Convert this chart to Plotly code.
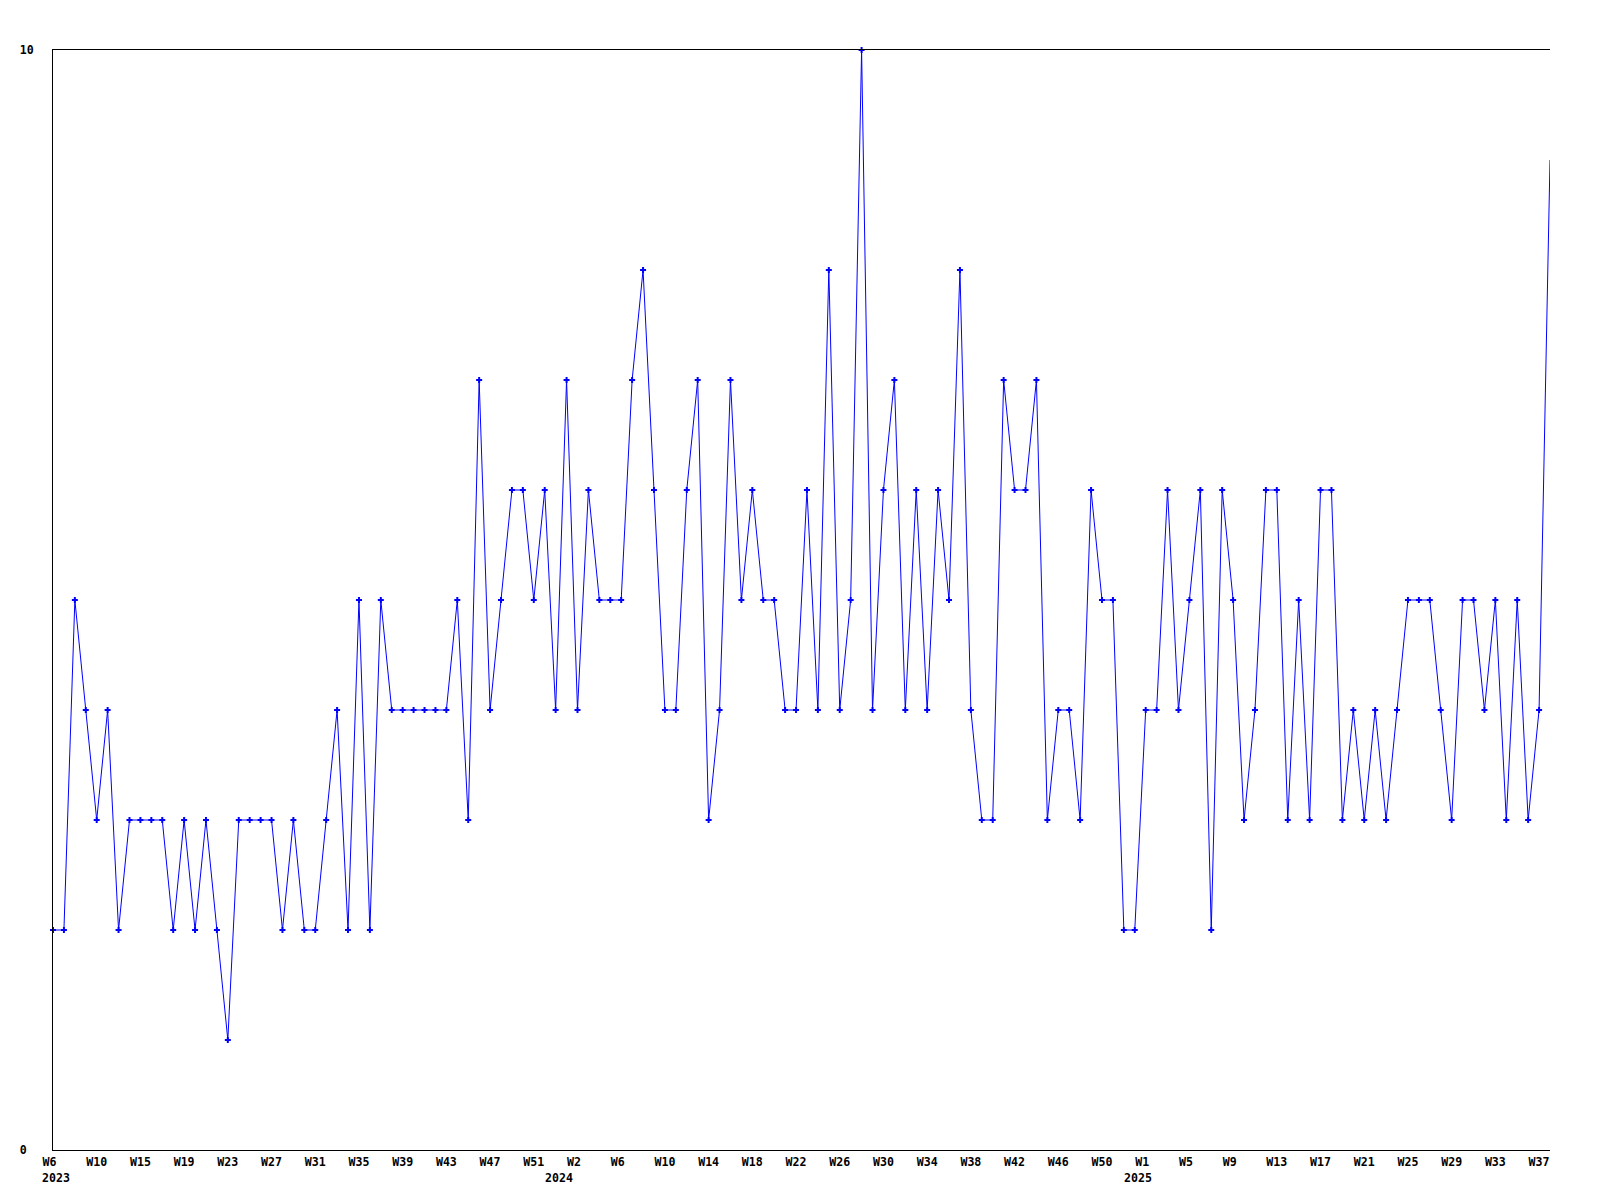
import plotly.graph_objects as go

# Weekly values, 2023 W6 .. 2025 W38 (138 points)
values = [
    2, 2, 5, 4, 3, 4, 2, 3, 3, 3, 3, 2, 3, 2, 3, 2, 1, 3, 3, 3,
    3, 2, 3, 2, 2, 3, 4, 2, 5, 2, 5, 4, 4, 4, 4, 4, 4, 5, 3, 7,
    4, 5, 6, 6, 5, 6, 4, 7, 4, 6, 5, 5, 5, 7, 8, 6, 4, 4, 6, 7,
    3, 4, 7, 5, 6, 5, 5, 4, 4, 6, 4, 8, 4, 5, 10, 4, 6, 7, 4, 6,
    4, 6, 5, 8, 4, 3, 3, 7, 6, 6, 7, 3, 4, 4, 3, 6, 5, 5, 2, 2,
    4, 4, 6, 4, 5, 6, 2, 6, 5, 3, 4, 6, 6, 3, 5, 3, 6, 6, 3, 4,
    3, 4, 3, 4, 5, 5, 5, 4, 3, 5, 5, 4, 5, 3, 5, 3, 4, 9,
]

# Tick labels (every 4th point)
tick_labels = [
    "W6", "W10", "W15", "W19", "W23", "W27", "W31", "W35", "W39", "W43", "W47", "W51",
    "W2", "W6", "W10", "W14", "W18", "W22", "W26", "W30", "W34", "W38", "W42", "W46", "W50",
    "W1", "W5", "W9", "W13", "W17", "W21", "W25", "W29", "W33", "W37",
]
tick_step = 4

# Year labels and the point index where they are shown
year_labels = ["2023", "2024", "2025"]
year_index = [0, 46, 99]

y_ticks = [0, 10]

x = list(range(len(values)))
tick_vals = [i * tick_step for i in range(len(tick_labels))]
# pad short labels so that all labels start at the same offset from their point
tick_text = [t if len(t) >= 3 else t + "\u00a0" * (3 - len(t)) for t in tick_labels]

FONT = dict(family="DejaVu Sans Mono", size=11.6, color="black", weight="bold")

fig = go.Figure()
# the line through every point
fig.add_trace(go.Scatter(
    x=x, y=values, mode="lines",
    line=dict(color="#0000ff", width=1),
    showlegend=False, hoverinfo="skip",
))
# markers (the last point sits on the right frame edge and has no marker)
fig.add_trace(go.Scatter(
    x=x[:-1], y=values[:-1], mode="markers",
    marker=dict(symbol="cross", size=5, color="#0000ff"),
    cliponaxis=False, showlegend=False, hoverinfo="skip",
))

for lab, idx in zip(year_labels, year_index):
    fig.add_annotation(
        x=idx, xref="x", y=0, yref="paper", text=lab, showarrow=False,
        xanchor="left", yanchor="top", xshift=-13, yshift=-19, font=FONT,
    )

# the page body has an 8px margin, so the figure is sized/offset to compensate
fig.update_layout(
    width=1592, height=1192,
    margin=dict(l=42, r=50, t=42, b=50),
    paper_bgcolor="white", plot_bgcolor="white",
    font=FONT,
)
fig.update_xaxes(
    range=[0, len(values) - 1], tickmode="array", tickvals=tick_vals, ticktext=tick_text,
    showgrid=False, zeroline=False, showline=True, mirror=True,
    linecolor="black", linewidth=1, ticks="", tickfont=FONT, ticklabelstandoff=1,
)
fig.update_yaxes(
    range=[0, 10], tickmode="array", tickvals=y_ticks,
    ticktext=[str(v) if len(str(v)) >= 2 else str(v) + "\u00a0" for v in y_ticks],
    showgrid=False, zeroline=False, showline=True, mirror=False,
    linecolor="black", linewidth=1, ticks="", tickfont=FONT, ticklabelstandoff=16,
)

fig.write_html("out.html")
